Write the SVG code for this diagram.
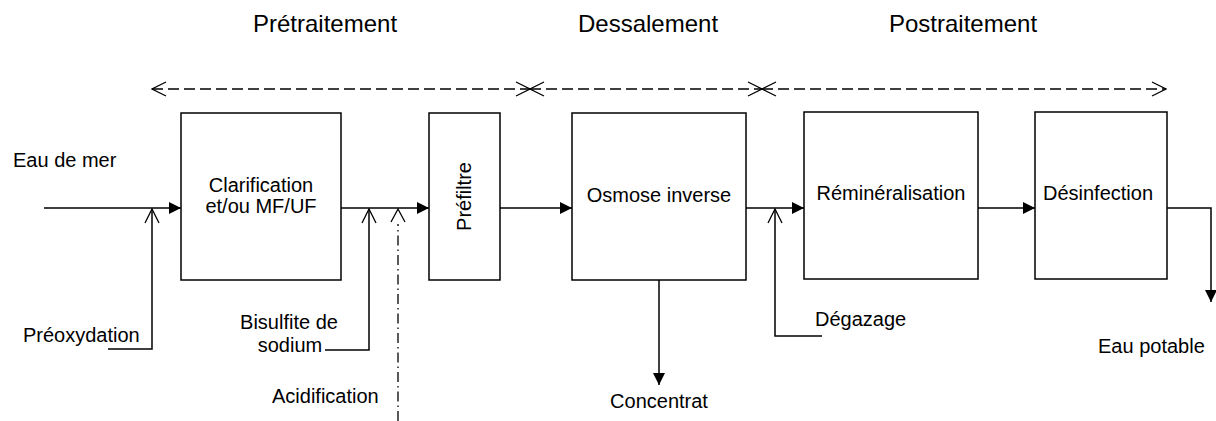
<svg xmlns="http://www.w3.org/2000/svg" width="1216" height="421" viewBox="0 0 1216 421">
<style>
text{font-family:"Liberation Sans",Arial,sans-serif;font-size:20px;fill:#000}
.hd{font-size:24px}
.box{fill:#fff;stroke:#000;stroke-width:1.5}
.ln{fill:none;stroke:#000;stroke-width:1.5}
.dash{fill:none;stroke:#000;stroke-width:1.3;stroke-dasharray:11 5}
.dd{fill:none;stroke:#000;stroke-width:1.3;stroke-dasharray:10 4 1.5 4}
.open{fill:none;stroke:#000;stroke-width:1.3}
.mid{text-anchor:middle}
</style>
<defs>
<marker id="fa" markerUnits="userSpaceOnUse" markerWidth="14" markerHeight="14" viewBox="0 0 14 14" refX="13" refY="7" orient="auto">
<path d="M1,1 L13,7 L1,13 Z" fill="#000"/>
</marker>
<marker id="oa" markerUnits="userSpaceOnUse" markerWidth="16" markerHeight="18" viewBox="0 0 16 18" refX="15" refY="9" orient="auto">
<path d="M1,2 L15,9 L1,16" fill="none" stroke="#000" stroke-width="1.3"/>
</marker>
<marker id="os" markerUnits="userSpaceOnUse" markerWidth="16" markerHeight="18" viewBox="0 0 16 18" refX="15" refY="9" orient="auto-start-reverse">
<path d="M1,2 L15,9 L1,16" fill="none" stroke="#000" stroke-width="1.3"/>
</marker>
</defs>
<g id="headers">
<text class="hd" x="253" y="32">Prétraitement</text>
<text class="hd" x="578" y="32">Dessalement</text>
<text class="hd" x="889" y="32">Postraitement</text>
</g>
<g id="connectors">
<path class="dash" d="M152,89 H530" marker-start="url(#os)" marker-end="url(#os)"/>
<path class="dash" d="M530,89 H762" marker-start="url(#os)" marker-end="url(#os)"/>
<path class="dash" d="M762,89 H1166" marker-start="url(#os)" marker-end="url(#os)"/>
<path class="ln" d="M44,208 H181" marker-end="url(#fa)"/>
<path class="ln" d="M341,208 H429" marker-end="url(#fa)"/>
<path class="ln" d="M500,208 H572" marker-end="url(#fa)"/>
<path class="ln" d="M746,208 H804" marker-end="url(#fa)"/>
<path class="ln" d="M978,208 H1035" marker-end="url(#fa)"/>
<path class="ln" d="M1167,208 H1211 V302" marker-end="url(#fa)"/>
<path class="ln" d="M659,280 V385" marker-end="url(#fa)"/>
<path class="ln" d="M108,349 H152 V209" marker-end="url(#oa)"/>
<path class="ln" d="M325,350 H369 V209" marker-end="url(#oa)"/>
<path class="ln" d="M822,336 H775 V209" marker-end="url(#oa)"/>
<path class="dd" d="M398,421 V224"/>
<path class="open" d="M391,222 L398,209 L405,222"/>
</g>
<g id="n-clarification">
<rect class="box" x="181" y="113" width="160" height="167"/>
<text class="mid" x="261" y="192">Clarification</text>
<text class="mid" x="261" y="213">et/ou MF/UF</text>
</g>
<g id="n-prefiltre">
<rect class="box" x="429" y="113" width="71" height="167"/>
<text class="mid" transform="translate(471,196.5) rotate(-90)">Préfiltre</text>
</g>
<g id="n-osmose">
<rect class="box" x="572" y="113" width="174" height="167"/>
<text class="mid" x="659" y="202">Osmose inverse</text>
</g>
<g id="n-remineralisation">
<rect class="box" x="804" y="112" width="174" height="167"/>
<text class="mid" x="891" y="200">Réminéralisation</text>
</g>
<g id="n-desinfection">
<rect class="box" x="1035" y="112" width="132" height="167"/>
<text class="mid" x="1098" y="200">Désinfection</text>
</g>
<g id="labels">
<text x="13" y="167">Eau de mer</text>
<text x="23" y="342">Préoxydation</text>
<text class="mid" x="289" y="329">Bisulfite de</text>
<text class="mid" x="290" y="352">sodium</text>
<text x="272" y="403">Acidification</text>
<text class="mid" x="659" y="408">Concentrat</text>
<text x="815" y="326">Dégazage</text>
<text x="1098" y="353">Eau potable</text>
</g>
</svg>
